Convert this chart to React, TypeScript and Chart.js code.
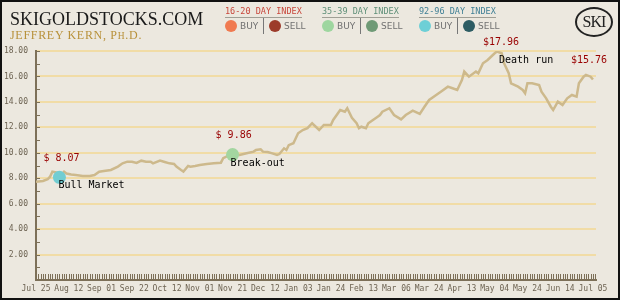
import React, { useEffect, useRef } from 'react';
import { Chart, registerables } from 'chart.js';

Chart.register(...registerables);

// ---- data (trading-day index -> index price) ----
const dayIndex = [
  0, 3, 5, 6, 7, 9, 10, 12, 13, 15, 17, 20, 23, 25, 27, 29, 32, 35, 37, 39, 41, 43, 45, 47, 49, 50,
  53, 55, 57, 59, 60, 62, 63, 65, 66, 68, 70, 73, 76, 79, 80, 82, 84, 87, 90, 93, 94, 96, 97, 99,
  101, 103, 104, 106, 107, 108, 110, 112, 114, 116, 118, 121, 123, 126, 127, 130, 132, 133, 135, 137,
  138, 139, 141, 142, 144, 146, 147, 148, 151, 153, 156, 158, 161, 164, 166, 168, 171, 173, 176, 178,
  180, 182, 183, 185, 188, 189, 191, 193, 196, 197, 199, 200, 202, 203, 206, 208, 209, 210, 212, 215,
  216, 218, 220, 221, 223, 225, 227, 229, 231, 232, 234, 235, 237, 238,
];
const price = [
  7.73, 7.78, 7.92, 8.12, 8.51, 8.44, 8.10, 8.51, 8.37, 8.29, 8.25, 8.18, 8.18, 8.25, 8.51, 8.57, 8.65, 8.91, 9.17, 9.30, 9.30, 9.20, 9.38, 9.30, 9.30, 9.17,
  9.39, 9.28, 9.17, 9.12, 8.91, 8.65, 8.53, 8.96, 8.91, 8.96, 9.04, 9.12, 9.17, 9.22, 9.57, 9.75, 9.86, 9.83, 9.96, 10.09, 10.22, 10.27, 10.09, 10.06,
  9.95, 9.83, 9.90, 10.35, 10.22, 10.60, 10.75, 11.53, 11.79, 11.93, 12.32, 11.79, 12.19, 12.19, 12.58, 13.36, 13.23, 13.50, 12.74, 12.32,
  11.93, 12.05, 11.93, 12.32, 12.58, 12.84, 12.97, 13.23, 13.50, 12.97, 12.63, 12.97, 13.31, 13.05, 13.62, 14.15, 14.54, 14.80, 15.20, 15.07,
  14.94, 15.72, 16.38, 15.98, 16.38, 16.25, 17.04, 17.30, 17.82, 17.96, 17.82, 17.04, 16.25, 15.46, 15.20, 14.94, 14.68, 15.46, 15.46, 15.33,
  14.80, 14.28, 13.62, 13.36, 14.02, 13.76, 14.28, 14.54, 14.41, 15.46, 15.98, 16.12, 15.98, 15.76,
];

const xTickIndex = [0, 14, 28, 42, 56, 70, 84, 98, 112, 126, 140, 154, 168, 182, 196, 210, 224, 238];
const xTickLabels = [
  'Jul 25', 'Aug 12', 'Sep 01', 'Sep 22', 'Oct 12', 'Nov 01', 'Nov 21', 'Dec 12', 'Jan 03',
  'Jan 24', 'Feb 13', 'Mar 06', 'Mar 24', 'Apr 13', 'May 04', 'May 24', 'Jun 14', 'Jul 05',
];
const yTicks = [0, 2, 4, 6, 8, 10, 12, 14, 16, 18];

// signals (dots on the line)
const signalNames = ['Bull Market', 'Break-out'];
const signalIndex = [10, 84];
const signalPrice = [8.07, 9.86];

// price callouts
const calloutNames = ['Death run', ''];
const calloutIndex = [197, 238];
const calloutPrice = [17.96, 15.76];

// ---- styles ----
const AXIS = '#7d7058';
const TICK_TEXT = '#6d6352';
const LINE = '#cdb98c';
const GRID = '#f1dca6';
const RED = '#990000';
const signalColors = ['#72cdd2', '#a3d6a0'];
// label offsets (pixels) relative to each marked point
const signalOffsets = [
  { price: [-16, -19], name: [-1, 8] },
  { price: [-17, -19], name: [-2, 8.5] },
];
const calloutOffsets = [
  { price: [-14, -9], name: [2, 9] },
  { price: [-22, -19], name: [0, 0] },
];

const fmt = (v: number) => '$' + v.toFixed(2).padStart(5, ' ');

const decorPlugin = {
  id: 'decor',
  afterDraw(chart: any) {
    const { ctx, chartArea } = chart;
    const x = chart.scales.x;
    const y = chart.scales.y;
    ctx.save();
    ctx.strokeStyle = AXIS;
    ctx.lineWidth = 1;
    ctx.beginPath();
    for (let i = 0; i <= 239; i++) {
      const px = Math.round(x.getPixelForValue(i)) + 0.5;
      ctx.moveTo(px, chartArea.bottom - 6);
      ctx.lineTo(px, chartArea.bottom);
    }
    for (let v = 1; v <= 18; v++) {
      const py = Math.round(y.getPixelForValue(v)) + 0.5;
      ctx.moveTo(chartArea.left, py);
      ctx.lineTo(chartArea.left + 4, py);
    }
    ctx.stroke();

    ctx.font = '10px "DejaVu Sans Mono"';
    ctx.textAlign = 'left';
    ctx.textBaseline = 'middle';
    signalNames.forEach((name, i) => {
      const px = x.getPixelForValue(signalIndex[i]);
      const py = y.getPixelForValue(signalPrice[i]);
      const o = signalOffsets[i];
      ctx.fillStyle = RED;
      ctx.fillText(fmt(signalPrice[i]), px + o.price[0], py + o.price[1]);
      ctx.fillStyle = '#000';
      ctx.fillText(name, px + o.name[0], py + o.name[1]);
    });
    calloutNames.forEach((name, i) => {
      const px = x.getPixelForValue(calloutIndex[i]);
      const py = y.getPixelForValue(calloutPrice[i]);
      const o = calloutOffsets[i];
      ctx.fillStyle = RED;
      ctx.fillText(fmt(calloutPrice[i]), px + o.price[0], py + o.price[1]);
      if (name) {
        ctx.fillStyle = '#000';
        ctx.fillText(name, px + o.name[0], py + o.name[1]);
      }
    });
    ctx.restore();
  },
};

const legendGroups = [
  { title: '16-20 DAY INDEX', left: 225, color: '#c8473b', buy: '#f07a50', sell: '#9c3b2a' },
  { title: '35-39 DAY INDEX', left: 322, color: '#5e8f78', buy: '#9ed69f', sell: '#6f9a76' },
  { title: '92-96 DAY INDEX', left: 419, color: '#3f7f95', buy: '#6dcfd6', sell: '#2d5c63' },
];

function LegendGroup({ g }: { g: typeof legendGroups[number] }) {
  const dot = (cx: number, c: string) => (
    <div style={{ position: 'absolute', left: cx - 6, top: 20, width: 12, height: 12, borderRadius: '50%', background: c }} />
  );
  const lab = (lx: number, t: string) => (
    <div style={{ position: 'absolute', left: lx, top: 21, font: '9px "DejaVu Sans"', lineHeight: '10px', color: '#707070' }}>{t}</div>
  );
  return (
    <div style={{ position: 'absolute', left: g.left, top: 0 }}>
      <div style={{ position: 'absolute', left: 0, top: 7, font: '8.5px "DejaVu Sans Mono"', lineHeight: '9px', color: g.color, whiteSpace: 'pre', paddingBottom: 1, borderBottom: '1px solid rgba(110,110,100,0.6)' }}>{g.title}</div>
      {dot(5.5, g.buy)}
      {lab(15, 'BUY')}
      <div style={{ position: 'absolute', left: 38, top: 18, width: 1, height: 16, background: '#777' }} />
      {dot(50, g.sell)}
      {lab(59, 'SELL')}
    </div>
  );
}

export default function App() {
  const ref = useRef<HTMLCanvasElement>(null);
  useEffect(() => {
    document.body.style.margin = '0';
    const chart = new Chart(ref.current!, {
      type: 'line',
      data: {
        datasets: [
          {
            type: 'scatter',
            data: signalIndex.map((d, i) => ({ x: d, y: signalPrice[i] })),
            pointRadius: 6.5,
            pointBackgroundColor: signalColors,
            pointBorderWidth: 0,
            showLine: false,
          } as any,
          {
            data: dayIndex.map((d, i) => ({ x: d, y: price[i] })),
            borderColor: LINE,
            borderWidth: 2.5,
            pointRadius: 0,
            tension: 0,
            fill: false,
          },
        ],
      },
      options: {
        responsive: false,
        animation: false,
        events: [],
        layout: { padding: { top: 51, right: 24, left: 0, bottom: 0 } },
        plugins: { legend: { display: false }, tooltip: { enabled: false } },
        scales: {
          x: {
            type: 'linear',
            min: 0,
            max: 239.3,
            afterBuildTicks: (s: any) => {
              s.ticks = xTickIndex.map((v) => ({ value: v }));
            },
            afterFit: (s: any) => {
              s.height = 20;
            },
            grid: { display: false, drawTicks: false },
            border: { display: true, color: AXIS, width: 2 },
            ticks: {
              autoSkip: false,
              maxRotation: 0,
              minRotation: 0,
              padding: 4,
              color: TICK_TEXT,
              font: { family: 'DejaVu Sans Mono', size: 8 },
              callback: (v: any) => {
                const k = xTickIndex.indexOf(Number(v));
                return k >= 0 ? xTickLabels[k] : '';
              },
            },
          },
          y: {
            type: 'linear',
            min: 0,
            max: 18,
            afterBuildTicks: (s: any) => {
              s.ticks = yTicks.map((v) => ({ value: v }));
            },
            afterFit: (s: any) => {
              s.width = 36;
            },
            grid: {
              drawTicks: false,
              lineWidth: 2,
              color: (c: any) => (c.tick && c.tick.value === 0 ? 'rgba(0,0,0,0)' : GRID),
            },
            border: { display: true, color: AXIS, width: 2 },
            ticks: {
              padding: 8,
              color: TICK_TEXT,
              font: { family: 'DejaVu Sans Mono', size: 8 },
              callback: (v: any) => (Number(v) === 0 ? '' : Number(v).toFixed(2)),
            },
          },
        },
      },
      plugins: [decorPlugin],
    } as any);
    return () => chart.destroy();
  }, []);

  return (
    <div style={{ position: 'relative', width: 620, height: 300, background: '#ece8df', overflow: 'hidden' }}>
      <canvas ref={ref} width={620} height={300} style={{ position: 'absolute', left: 0, top: 0 }} />
      <div style={{ position: 'absolute', left: 10, top: 10, font: '18px "Liberation Serif"', lineHeight: '18px', color: '#1a1a1a', whiteSpace: 'nowrap' }}>
        SKIGOLDSTOCKS.COM
      </div>
      <div style={{ position: 'absolute', left: 10, top: 29, font: '12px "Liberation Serif"', lineHeight: '12px', letterSpacing: '0.7px', color: '#b8913a', whiteSpace: 'nowrap' }}>
        JEFFREY KERN, P<span style={{ fontSize: '9.5px' }}>H</span>.D.
      </div>
      {legendGroups.map((g) => (
        <LegendGroup key={g.title} g={g} />
      ))}
      <div style={{ position: 'absolute', left: 575, top: 7, width: 38, height: 30, boxSizing: 'border-box', border: '2px solid #222', borderRadius: '50%', display: 'flex', alignItems: 'center', justifyContent: 'center', font: '16px "Liberation Serif"', color: '#222', letterSpacing: '-1px' }}>
        SKI
      </div>
      <div style={{ position: 'absolute', left: 0, top: 0, width: 620, height: 300, boxSizing: 'border-box', border: '2px solid #111', pointerEvents: 'none' }} />
    </div>
  );
}
